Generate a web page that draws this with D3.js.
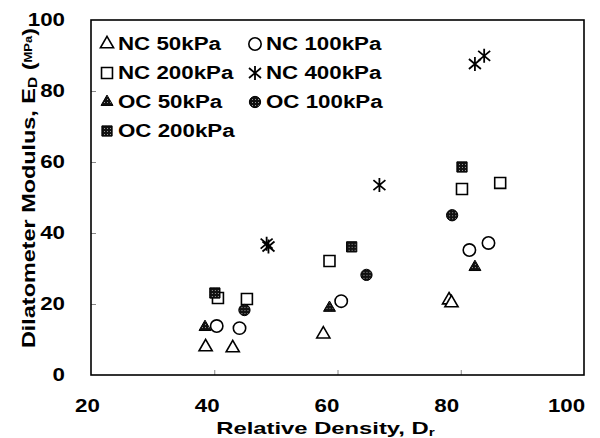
<!DOCTYPE html>
<meta charset="utf-8">
<style>
    body { margin: 0; background: #fff; }
    text { font-family: "Liberation Sans", Arial, sans-serif; font-weight: bold; fill: #000; }
</style>
<body>
<svg id="chart" width="600" height="438"></svg>
<script src="https://cdnjs.cloudflare.com/ajax/libs/d3/7.8.5/d3.min.js"></script>
<script>
    // tick labels
    var xTicks = [20, 40, 60, 80, 100];
    var yTicks = [0, 20, 40, 60, 80, 100];

    // series: [relative density Dr, dilatometer modulus ED]
    var nc50 = [[38.6, 7.9], [43.0, 7.6], [57.7, 11.5], [78.1, 21.1], [78.5, 20.3]];
    var nc100 = [[40.4, 13.8], [44.1, 13.2], [60.6, 20.8], [81.4, 35.2], [84.5, 37.2]];
    var nc200 = [[40.6, 21.7], [45.3, 21.4], [58.7, 32.1], [80.2, 52.4], [86.4, 54.1]];
    var nc400 = [[48.5, 37.0], [48.8, 36.2], [66.8, 53.5], [82.3, 87.6], [83.8, 89.9]];
    var oc50 = [[38.5, 13.5], [58.7, 18.9], [82.3, 30.4]];
    var oc100 = [[44.9, 18.3], [64.7, 28.2], [78.6, 45.0]];
    var oc200 = [[40.1, 23.1], [62.3, 36.1], [80.2, 58.6]];

    var seriesNames = ["NC 50kPa", "NC 100kPa", "NC 200kPa", "NC 400kPa", "OC 50kPa", "OC 100kPa", "OC 200kPa"];
    var seriesMarkers = ["triangle", "circle", "square", "star", "triangleF", "circleF", "squareF"];
    var seriesData = [nc50, nc100, nc200, nc400, oc50, oc100, oc200];

    var margin = { top: 20, right: 16, bottom: 63, left: 91 };
    var W = 600, H = 438;
    var width = W - margin.left - margin.right,
        height = H - margin.top - margin.bottom;

    // the scanned lettering is wider than plain Arial
    var stretch = 1.24;

    var svg = d3.select("#chart");

    // hatched fill for the solid (OC) markers
    var defs = svg.append("defs");
    var pat = defs.append("pattern")
        .attr("id", "hatch")
        .attr("patternUnits", "userSpaceOnUse")
        .attr("width", 3).attr("height", 3);
    pat.append("rect").attr("width", 3).attr("height", 3).attr("fill", "#111");
    pat.append("rect").attr("width", 1).attr("height", 1).attr("fill", "#999");

    var x = d3.scaleLinear().domain([20, 100]).range([0, width]);
    var y = d3.scaleLinear().domain([0, 100]).range([height, 0]);
    // the scanned labels sit a little left of their ticks
    var xLab = d3.scaleLinear().domain([20, 100]).range([-4, width - 18]);

    var g = svg.append("g")
        .attr("transform", "translate(" + margin.left + "," + margin.top + ")");

    // inner ticks
    g.append("g")
        .attr("transform", "translate(0," + height + ")")
        .call(d3.axisTop(x).tickValues(xTicks.slice(1, -1)).tickSize(5).tickFormat(""))
        .call(function (a) { a.select(".domain").remove(); a.selectAll("line").attr("stroke", "#888"); });
    g.append("g")
        .call(d3.axisRight(y).tickValues(yTicks.slice(1, -1)).tickSize(5).tickFormat(""))
        .call(function (a) { a.select(".domain").remove(); a.selectAll("line").attr("stroke", "#888"); });

    // tick labels
    g.append("g")
        .attr("transform", "translate(0," + (height + 21) + ")")
        .call(d3.axisBottom(xLab).tickValues(xTicks).tickSize(0).tickFormat(d3.format("d")))
        .call(function (a) {
            a.select(".domain").remove();
            a.selectAll("text").attr("font-size", 18).attr("font-family", null);
        });
    g.append("g")
        .attr("transform", "translate(-23,0)")
        .call(d3.axisLeft(y).tickValues(yTicks).tickSize(0).tickFormat(d3.format("d")))
        .call(function (a) {
            a.select(".domain").remove();
            a.selectAll("text").attr("font-size", 18).attr("font-family", null);
        });

    // frame
    g.append("rect")
        .attr("width", width).attr("height", height)
        .attr("fill", "none").attr("stroke", "#000").attr("stroke-width", 1.6);

    function drawMarker(sel, type) {
        var filled = type.slice(-1) === "F";
        var base = filled ? type.slice(0, -1) : type;
        if (base === "star") {
            sel.append("path").attr("d", "M0,-7L0,7M-6,-5L6,5M-6,5L6,-5")
                .attr("stroke", "#000").attr("stroke-width", 1.8).attr("fill", "none");
            return;
        }
        var sym = { triangle: d3.symbolTriangle, circle: d3.symbolCircle, square: d3.symbolSquare }[base];
        var size = { triangle: filled ? 62 : 75, circle: filled ? 100 : 120, square: filled ? 105 : 120 }[base];
        sel.append("path")
            .attr("d", d3.symbol().type(sym).size(size)())
            .attr("fill", filled ? "url(#hatch)" : "#fff")
            .attr("stroke", "#000")
            .attr("stroke-width", filled ? 1 : 1.6);
    }

    // points
    seriesData.forEach(function (data, i) {
        g.append("g").selectAll("g")
            .data(data)
            .enter().append("g")
            .attr("transform", function (d) { return "translate(" + x(d[0]) + "," + y(d[1]) + ")"; })
            .each(function () { drawMarker(d3.select(this), seriesMarkers[i]); });
    });

    // legend
    var legCols = [107, 255], legRows = [44, 73, 102, 131];
    seriesNames.forEach(function (name, i) {
        var lg = svg.append("g")
            .attr("transform", "translate(" + legCols[i % 2] + "," + legRows[Math.floor(i / 2)] + ")");
        drawMarker(lg, seriesMarkers[i]);
        lg.append("text")
            .attr("x", 11).attr("dy", "0.36em")
            .attr("font-size", 18)
            .text(name);
    });

    // axis titles
    svg.append("text")
        .attr("class", "xtitle")
        .attr("x", margin.left + width / 2 - 12).attr("y", 434)
        .attr("text-anchor", "middle").attr("font-size", 17)
        .text("Relative Density, D")
        .append("tspan").attr("font-size", 11).attr("dy", 2).text("r");

    var yt = svg.append("text")
        .attr("class", "ytitle")
        .attr("transform", "translate(35," + 188 + ") rotate(-90)")
        .attr("text-anchor", "middle").attr("font-size", 18);
    yt.append("tspan").text("Dilatometer Modulus, E");
    yt.append("tspan").attr("font-size", 12).attr("dy", 2).text("D");
    yt.append("tspan").attr("dy", -2).text(" (");
    yt.append("tspan").attr("font-size", 10).attr("dy", -3).text("MPa");
    yt.append("tspan").attr("dy", 3).text(")");

    // widen every label to the scanned proportions
    svg.selectAll("text").each(function () {
        var k = this.classList.contains("xtitle") ? 1.4 : this.classList.contains("ytitle") ? 1.3 : stretch;
        var w = this.getComputedTextLength();
        d3.select(this).attr("textLength", w * k).attr("lengthAdjust", "spacingAndGlyphs");
    });
</script>
</body>
